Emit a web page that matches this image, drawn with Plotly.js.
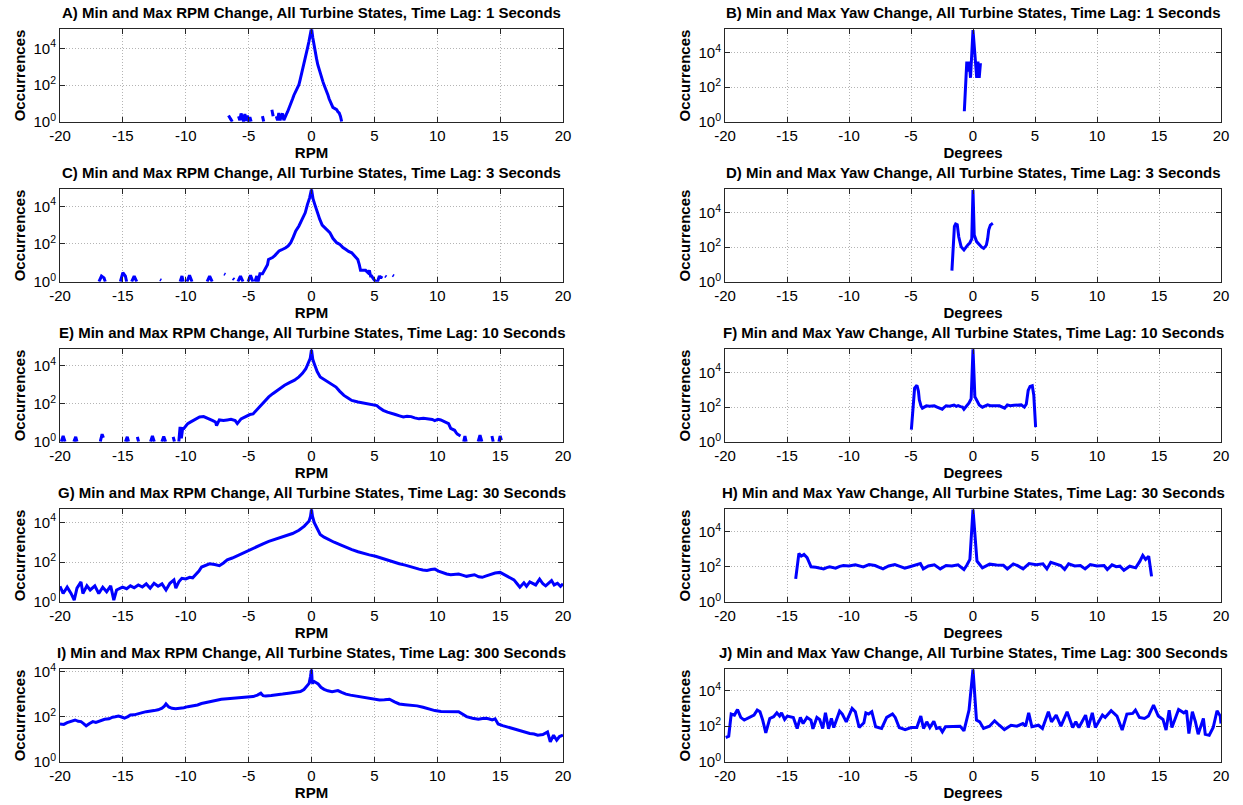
<!DOCTYPE html>
<html>
<head>
<meta charset="utf-8">
<script src="https://cdn.plot.ly/plotly-3.0.1.min.js"></script>
<style>html,body{margin:0;padding:0;background:#fff;}#chart{width:1243px;height:805px;}</style>
</head>
<body>
<div id="chart"></div>
<script>
// ---------- DATA ----------
const titles = [
  "A) Min and Max RPM Change, All Turbine States, Time Lag: 1 Seconds",
  "B) Min and Max Yaw Change, All Turbine States, Time Lag: 1 Seconds",
  "C) Min and Max RPM Change, All Turbine States, Time Lag: 3 Seconds",
  "D) Min and Max Yaw Change, All Turbine States, Time Lag: 3 Seconds",
  "E) Min and Max RPM Change, All Turbine States, Time Lag: 10 Seconds",
  "F) Min and Max Yaw Change, All Turbine States, Time Lag: 10 Seconds",
  "G) Min and Max RPM Change, All Turbine States, Time Lag: 30 Seconds",
  "H) Min and Max Yaw Change, All Turbine States, Time Lag: 30 Seconds",
  "I) Min and Max RPM Change, All Turbine States, Time Lag: 300 Seconds",
  "J) Min and Max Yaw Change, All Turbine States, Time Lag: 300 Seconds"
];
const xTitles = ["RPM", "Degrees"];
const yTitle = "Occurrences";
const xTickVals = [-20, -15, -10, -5, 0, 5, 10, 15, 20];
const yTickVals = [1, 100, 10000];
const yTickText = ["10<sup>0</sup>", "10<sup>2</sup>", "10<sup>4</sup>"];

// A) RPM, lag 1 s
const rpm1_x = [-6.6,-6.5,-6.4,-6.3,-6.25, -5.8,-5.7,-5.6,-5.5,-5.4,-5.3,-5.2,-5.1,-5.0,-4.9,-4.8,-4.5, -3.9,-3.8,-3.5, -3.15,-3.05,-2.95,
  -2.8,-2.7,-2.6,-2.5,-2.4,-2.3,-2.2,-2.1,-2.0,-1.9,-1.8,-1.7,-1.6,-1.5,-1.4,-1.3,-1.2,-1.1,-1.0,-0.9,-0.8,-0.7,-0.6,-0.5,-0.4,-0.3,-0.2,-0.1,
  0,0.1,0.2,0.3,0.4,0.5,0.6,0.7,0.8,0.9,1.0,1.1,1.2,1.3,1.4,1.5,1.6,1.7,1.8,1.9,2.0,2.1,2.2,2.3,2.4];
const rpm1_y = [2.2,1.8,1.3,1,null, 2,1.2,2.8,1.5,1,2.6,1.1,2.2,1,1.8,1,null, 2,1,null, 4.5,2,null,
  2,1.2,3,1.2,2.2,2.8,1.2,2,2.5,3.5,5,7,10,18,28,40,55,75,105,200,380,700,1300,2800,5000,12000,25000,50000,
  130000,40000,14000,7000,2800,1300,700,400,250,160,100,70,46,30,18,12,8,6,5.5,5,4.6,3.5,3,2,1];

// B) Yaw, lag 1 s
const yaw1_x = [-0.7,-0.5,-0.4,-0.3,-0.2,0,0.3,0.4,0.5,0.6];
const yaw1_y = [4,3000,800,3000,350,200000,350,3000,350,2500];

// C) RPM, lag 3 s
const rpm3_x = [-16.9,-16.7,-16.5,-16.4,-16.3, -15.2,-15.0,-14.8,-14.7,-14.5, -14.3,-14.1,-13.9,-13.0, -12.05,-11.95,-11.0,
  -10.45,-10.3,-10.2,-10.0, -9.9,-9.7,-9.5,-9.0, -8.3,-8.1,-7.9,-7.5, -6.95,-6.85,-6.5, -6.25,-6.15,-6.0, -5.85,-5.65,-5.45,-5.2, -5.05,-4.85,-4.66,-4.6,
  -4.5,-4.35,-4.25,-4.1,-3.9,-3.75,-3.6,-3.5,-3.42,-3.25,-3.1,-2.9,-2.75,-2.58,-2.4,-2.2,-2.05,-1.85,-1.65,-1.45,-1.25,-1.0,-0.72,-0.5,-0.32,-0.15,
  0,0.12,0.26,0.45,0.66,0.85,1.06,1.25,1.46,1.7,2.0,2.26,2.5,2.74,2.95,3.2,3.45,3.68,3.8,3.9,4.1,4.3,4.5,4.6,4.7,4.78,4.9,5.1,5.25,5.4,5.5,5.6,
  5.7, 5.85,5.95,6.2, 6.45,6.55];
const rpm3_y = [1,2,1.6,1,null, 1,3,2,1,null, 1,2,1,null, 1.3,1.2,null,
  1,2,1,null, 1,2.2,1,null, 1,2,1,null, 2.6,2.4,null, 1.5,1.3,null, 1,2,1,null, 1,2.2,1,null,
  1,2,1,2.6,2.6,4,5.5,8,15,17,19,25,33,43,48,55,63,80,117,230,490,900,2000,4500,12600,28000,
  80000,25000,12600,4500,2000,1000,730,550,400,200,117,95,65,51,40,34,22,15,8,4,4,4,3,4,2,2,1.5,1,1,2,1.5,2,
  null, 2,1.8,null, 2.2,2];

// D) Yaw, lag 3 s
const yaw3_x = [-1.7,-1.5,-1.4,-1.27,-1.15,-1.05,-0.96,-0.85,-0.73,-0.6,-0.51,-0.4,-0.25,-0.1,0,0.1,0.29,0.4,0.54,0.7,0.86,1.0,1.08,1.18,1.27,1.4,1.5,1.6];
const yaw3_y = [4.4,1600,2200,2000,400,200,107,85,69,90,117,140,180,300,200000,500,210,160,133,100,85,110,133,300,1000,1900,2200,2400];

// E) RPM, lag 10 s
const rpm10_x = [-19.9,-19.75,-19.6,-19.0, -18.9,-18.75,-18.65,-18.0, -16.8,-16.65,-16.55,-16.0, -14.8,-14.65,-14.55,-14.0, -13.85,-13.75,-13.0,
  -12.8,-12.65,-12.5,-12.0, -11.9,-11.75,-11.6,-11.3, -11.0,-10.9,-10.7,
  -10.55,-10.45,-10.35,-10.25,-10.15,-10.0,-9.84,-9.6,-9.37,-9.1,-8.9,-8.58,-8.3,-8.1,-7.85,-7.64,-7.55,-7.33,-7.0,-6.7,
  -6.4,-6.07,-5.9,-5.6,-5.35,-5.13,-4.9,-4.65,-4.34,-4.0,-3.71,-3.4,-3.08,-2.6,-2.14,-1.75,-1.35,-1.0,-0.72,-0.45,
  -0.25,-0.1,0,0.1,0.22,0.45,0.69,1.0,1.32,1.65,1.95,2.25,2.58,2.9,3.2,3.7,4.15,4.55,4.94,5.2,
  5.4,5.7,6.04,6.35,6.67,7.0,7.3,7.6,7.92,8.2,8.55,8.9,9.34,9.6,9.8,10.05,10.28,10.5,10.75,10.9,
  11.07,11.2,11.38,11.5,11.6,11.75,11.85, 12.0, 12.1,12.2,12.3,12.8, 13.25,13.4,13.55,14.0, 14.35,14.45,14.7, 14.9,15.0,15.1];
const rpm10_y = [1,2,1,null, 1,1.8,1,null, 1,2.5,1.6,null, 1,1.8,1,null, 1.8,1,null,
  1,2,1,null, 1,1.9,1,null, 1.8,1,null,
  1,6,1.5,5,5,7,9,11,13,17,20,21,18,16,13,11,7,14,13,14,
  15,13,9,16,20,24,27,29,48,90,150,230,340,600,940,1300,1740,2600,4000,7000,
  13000,25000,70000,22000,13000,5000,2600,1900,1400,1000,760,450,275,200,150,125,110,100,92,80,
  61,45,36,30,27,23,20,22,21,18,16,17,16,15,13,15,14,12,11,9,
  5,4.5,4,3,2.5,2.2,2, null, 1,2,1,null, 1,2.2,1,null, 2,1,null, 1,2,1.2];

// F) Yaw, lag 10 s
const yaw10_x = [-4.97,-4.8,-4.71,-4.52,-4.4,-4.33,-4.2,-4.08,-3.9,-3.76,-3.5,-3.3,-3.12,-2.9,-2.64,-2.48,-2.3,-2.17,-1.9,-1.7,
  -1.53,-1.35,-1.2,-1.0,-0.85,-0.73,-0.5,-0.32,-0.15,0,0.15,0.32,0.5,0.76,0.95,1.18,1.4,1.6,1.85,2.13,
  2.35,2.55,2.77,3.0,3.3,3.6,3.89,4.14,4.3,4.45,4.6,4.78,4.9,5.05];
const yaw10_y = [5,300,1240,1780,800,260,120,86,100,117,110,115,117,100,86,75,100,117,110,125,
  130,110,120,105,100,75,120,170,300,220000,400,210,130,98,115,133,120,125,120,117,
  100,86,133,120,125,130,133,98,150,900,1550,1700,500,7];

// G) RPM, lag 30 s
const rpm30_x = [-20,-19.75,-19.43,-19.12,-18.87,-18.65,-18.33,-18.18,-17.86,-17.6,-17.23,-16.92,-16.6,-16.29,-15.97,
  -15.72,-15.5,-15.03,-14.7,-14.4,-14.1,-13.77,-13.45,-13.14,-12.83,-12.52,-12.2,-11.89,-11.57,-11.26,
  -10.94,-10.79,-10.55,-10.31,-10.0,-9.69,-9.45,-9.21,-8.95,-8.74,-8.4,-8.11,-7.7,-7.33,-7.0,
  -6.7,-6.3,-5.91,-5.5,-5.13,-4.7,-4.34,-3.9,-3.4,-2.9,-2.45,-2.0,-1.51,-1.0,-0.57,
  -0.19,-0.08,0,0.08,0.22,0.45,0.69,1.0,1.32,1.8,2.26,2.7,3.21,3.7,4.15,
  4.6,5.09,5.5,6.04,6.5,6.98,7.45,7.92,8.25,8.55,8.85,9.18,9.5,9.81,10.1,
  10.44,10.75,11.07,11.4,11.7,12.0,12.33,12.65,12.96,13.3,13.58,13.9,14.21,14.6,15.0,
  15.3,15.63,15.9,16.1,16.35,16.57,16.89,17.1,17.36,17.6,17.83,18.14,18.4,18.62,18.85,
  19.09,19.3,19.56,19.8,20];
const rpm30_y = [6,2.6,5.4,2.6,1.2,4.8,10,2.6,6.3,3.9,6.3,2.6,5.4,3.2,6.3,
  1.2,3.9,5.4,4.5,6.3,5,7,5.5,7.9,4.8,8.5,6,7.9,3.9,8.5,
  12.6,4.8,10,15,14,17,16,23,35,56,70,82,75,65,90,
  130,160,210,270,350,480,630,800,1100,1400,1900,2200,2750,4000,6500,
  11700,20000,46000,20000,9600,4500,2450,1800,1380,1000,760,560,425,330,265,
  230,195,160,130,100,82,70,56,48,44,40,38,42,44,35,
  28,25,23,25,25,22,19,21,23,18,17,20,23,28,30,
  24,19,15,12.6,8,5.4,9,6,10,8,7,13.6,8,6.3,9,
  11.7,7,8.5,6,8];

// H) Yaw, lag 30 s
const yaw30_x = [-14.3,-14.04,-13.85,-13.63,-13.38,-13.06,-12.68,-12.35,-12.04,-11.8,-11.56,-11.08,-10.75,-10.45,-10.0,
  -9.49,-9.2,-8.85,-8.38,-7.9,-7.6,-7.26,-6.8,-6.3,-5.9,-5.5,-5.1,-4.71,-4.24,-4.01,
  -3.6,-3.12,-2.64,-2.17,-1.7,-1.21,-0.73,-0.5,-0.25,0,0.32,0.76,1.05,1.34,
  1.9,2.45,2.77,3.25,3.6,4.04,4.52,5.1,5.64,5.96,6.27,6.7,7.07,7.39,7.71,
  8.2,8.66,9.04,9.46,10.0,10.57,10.83,11.21,11.55,11.85,12.17,12.64,13.12,13.45,13.69,13.92,14.17,14.4];
const yaw30_y = [20,580,400,500,330,98,94,85,75,88,98,82,105,117,110,
  128,110,98,133,117,95,75,110,133,105,82,100,117,150,75,
  110,128,75,117,110,128,69,120,260,190000,210,86,115,140,
  125,120,75,145,115,75,150,130,145,75,180,140,117,69,145,
  110,117,75,133,110,117,69,128,100,107,63,107,86,200,445,260,400,28];

// I) RPM, lag 300 s
const rpm300_x = [-20,-19.7,-19.43,-19.1,-18.8,-18.55,-18.33,-18.1,-17.92,-17.65,-17.39,-17.15,-16.92,-16.7,-16.45,
  -16.1,-15.82,-15.6,-15.35,-15.1,-14.87,-14.6,-14.4,-14.1,-13.77,-13.45,-13.14,-12.83,-12.52,-12.2,
  -11.89,-11.7,-11.57,-11.35,-11.1,-10.8,-10.47,-10.15,-9.84,-9.45,-9.06,-8.75,-8.43,-8.1,-7.8,
  -7.5,-7.17,-6.7,-6.23,-5.85,-5.44,-5.05,-4.65,-4.3,-4.03,-3.85,-3.65,-3.2,-2.77,-2.3,
  -1.82,-1.35,-0.88,-0.6,-0.41,-0.19,-0.08,0,0.06,0.22,0.53,0.75,1.0,1.3,1.64,
  1.85,2.1,2.4,2.74,3.1,3.52,4.0,4.47,4.95,5.41,5.8,6.2,6.6,6.98,7.45,
  7.92,8.4,8.87,9.35,9.81,10.3,10.75,11.2,11.7,12.0,12.33,12.8,13.27,13.6,13.9,
  14.15,14.37,14.6,14.84,15.2,15.63,16.0,16.42,16.9,17.36,17.7,17.99,18.4,18.77,18.99,
  19.25,19.5,19.72,20];
const rpm300_y = [47,45,54,60,71,62,60,48,39,50,60,55,60,68,76,
  80,94,98,107,96,85,100,118,120,130,150,166,170,185,200,
  235,290,365,270,235,225,235,250,277,300,330,380,420,470,515,
  560,590,620,650,700,720,760,775,900,1100,850,830,870,910,1000,
  1100,1200,1290,1600,2150,3000,6000,12500,3000,3600,2800,2000,1630,1400,1290,
  1350,1440,1200,1000,900,830,720,650,600,550,560,590,450,365,340,
  330,300,260,220,185,170,166,166,166,130,100,85,76,82,85,
  78,71,80,47,40,34,30,27,22,18,17,15,16,21,7.7,
  15,9,13,15];

// J) Yaw, lag 300 s
const yaw300_x = [-19.94,-19.7,-19.5,-19.24,-18.99,-18.73,-18.45,-17.97,-17.66,-17.4,-17.18,-16.96,-16.71,-16.39,-16.08,
  -15.82,-15.6,-15.44,-15.19,-14.97,-14.49,-14.18,-13.92,-13.7,-13.39,-13.07,-12.91,-12.59,-12.37,-12.12,
  -11.9,-11.65,-11.42,-11.23,-10.76,-10.54,-10.22,-9.75,-9.49,-9.18,-8.8,-8.64,-8.42,-8.16,-7.85,
  -7.37,-6.96,-6.49,-6.27,-5.95,-5.47,-4.99,-4.53,-4.21,-3.99,-3.73,-3.48,-3.16,-2.94,-2.69,
  -2.47,-2.22,-1.52,-1.04,-0.73,-0.32,0,0.28,0.54,0.85,1.33,1.74,2.12,2.53,3.07,
  3.54,4.02,4.24,4.49,4.75,5.28,5.6,6.08,6.33,6.71,7.09,7.59,8.04,8.29,8.54,
  9.08,9.3,9.62,9.87,10.44,10.66,11.14,11.61,12.03,12.41,12.88,13.1,13.42,13.83,14.15,
  14.56,14.94,15.32,15.57,15.82,16.04,16.58,17.0,17.22,17.41,17.69,17.94,18.16,18.58,18.73,
  19.05,19.37,19.68,19.94,20.0];
const yaw300_y = [23,27,480,420,870,310,220,340,420,800,650,220,42,270,340,
  560,370,560,240,370,310,74,310,140,310,220,71,310,240,74,
  560,71,270,84,700,480,175,1000,650,84,155,560,480,650,92,
  74,310,480,310,84,64,84,84,370,74,175,84,190,74,84,
  48,92,92,100,54,800,160000,220,175,74,100,200,113,64,113,
  100,140,100,560,92,113,74,650,175,420,100,650,84,175,84,
  420,84,560,84,420,310,740,370,60,480,520,800,310,270,370,
  1550,370,240,60,800,84,870,560,740,38,650,175,35,270,35,
  31,84,740,370,140];

const seriesX = [rpm1_x, yaw1_x, rpm3_x, yaw3_x, rpm10_x, yaw10_x, rpm30_x, yaw30_x, rpm300_x, yaw300_x];
const seriesY = [rpm1_y, yaw1_y, rpm3_y, yaw3_y, rpm10_y, yaw10_y, rpm30_y, yaw30_y, rpm300_y, yaw300_y];

// ---------- LAYOUT ----------
const W = 1243, H = 805;
const colX = [[60, 563], [725, 1221]];
const rowY = [[29.3, 121.7], [189.3, 281.7], [349.3, 441.7], [509.3, 601.7], [669.3, 761.7]];
const yLogMax = [5.05, 5.35, 4.9, 5.35, 4.87, 5.33, 4.66, 5.28, 4.1, 5.2];

const FONT = "Liberation Sans, Arial, Helvetica, sans-serif";
const layout = {
  width: W, height: H,
  margin: {l: 0, r: 0, t: 0, b: 0},
  paper_bgcolor: "#ffffff", plot_bgcolor: "#ffffff",
  showlegend: false,
  font: {family: FONT, size: 15, color: "#000"},
  annotations: []
};
const traces = [];
for (let i = 0; i < 10; i++) {
  const col = i % 2, row = Math.floor(i / 2);
  const n = i + 1;
  const xa = "xaxis" + (n === 1 ? "" : n), ya = "yaxis" + (n === 1 ? "" : n);
  const xd = [colX[col][0] / W, colX[col][1] / W];
  const yd = [1 - rowY[row][1] / H, 1 - rowY[row][0] / H];
  layout[xa] = {
    domain: xd, anchor: "y" + (n === 1 ? "" : n),
    range: [-20, 20], tickvals: xTickVals, ticktext: xTickVals.map(String),
    showgrid: true, gridcolor: "#b4b4b4", griddash: "1px,2px", gridwidth: 1,
    showline: true, linecolor: "#262626", linewidth: 1, mirror: "ticks",
    ticks: "inside", ticklen: 5, tickcolor: "#262626",
    zeroline: false, tickfont: {family: FONT, size: 15, color: "#000"},
    title: {text: "<b>" + xTitles[col] + "</b>", font: {family: FONT, size: 15, color: "#000"}, standoff: 3},
    automargin: false, fixedrange: true
  };
  layout[ya] = {
    domain: yd, anchor: "x" + (n === 1 ? "" : n),
    type: "log", range: [0, yLogMax[i]],
    tickvals: yTickVals, ticktext: yTickText,
    showgrid: true, gridcolor: "#b4b4b4", griddash: "1px,2px", gridwidth: 1,
    showline: true, linecolor: "#262626", linewidth: 1, mirror: "ticks",
    ticks: "inside", ticklen: 5, tickcolor: "#262626",
    zeroline: false, tickfont: {family: FONT, size: 15, color: "#000"},
    title: {text: "<b>" + yTitle + "</b>", font: {family: FONT, size: 15, color: "#000"}, standoff: 4},
    automargin: false, fixedrange: true
  };
  traces.push({
    type: "scatter", mode: "lines",
    x: seriesX[i], y: seriesY[i],
    xaxis: "x" + (n === 1 ? "" : n), yaxis: "y" + (n === 1 ? "" : n),
    line: {color: "#0000ff", width: 3},
    connectgaps: false, hoverinfo: "x+y"
  });
  layout.annotations.push({
    text: "<b>" + titles[i] + "</b>",
    xref: "paper", yref: "paper",
    x: (xd[0] + xd[1]) / 2, y: yd[1],
    xanchor: "center", yanchor: "bottom", yshift: 6,
    showarrow: false, font: {family: FONT, size: 15, color: "#000"}
  });
}
Plotly.newPlot("chart", traces, layout, {displayModeBar: false, staticPlot: true});
</script>
</body>
</html>
